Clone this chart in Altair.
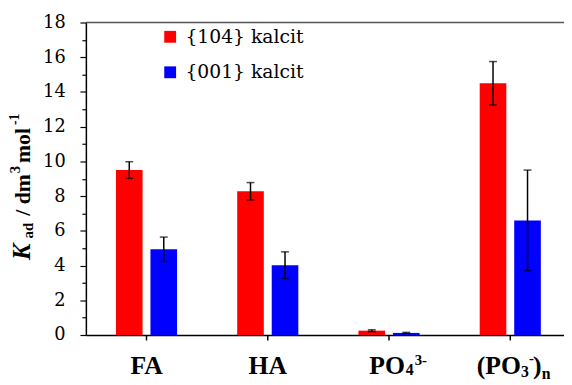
import altair as alt
import pandas as pd

categories = ["FA", "HA", "PO4", "PO3n"]
series = ["{104} kalcit", "{001} kalcit"]
k_104 = [9.5, 8.28, 0.25, 14.5]
err_104 = [0.48, 0.5, 0.05, 1.25]
k_001 = [4.94, 4.02, 0.12, 6.6]
err_001 = [0.7, 0.77, 0.03, 2.9]
y_major = list(range(0, 19, 2))
y_minor = list(range(1, 18, 2))

rows = []
for i, c in enumerate(categories):
    rows.append({"cat": c, "series": series[0], "k": k_104[i],
                 "lo": k_104[i] - err_104[i], "hi": k_104[i] + err_104[i]})
    rows.append({"cat": c, "series": series[1], "k": k_001[i],
                 "lo": k_001[i] - err_001[i], "hi": k_001[i] + err_001[i]})
df = pd.DataFrame(rows)

SERIF = "Liberation Serif"
SERIF_REG = "DejaVu Serif"
W, H = 485, 317

xscale = alt.Scale(domain=categories, range=[0, 492], paddingInner=0, paddingOuter=0)
yscale = alt.Scale(domain=[0, 18], nice=False, zero=True)

x = alt.X("cat:N", sort=categories, scale=xscale,
          axis=alt.Axis(labels=False, title=None, ticks=True, tickSize=5,
                        tickColor="black", tickWidth=1.5, domainColor="black",
                        domainWidth=1.5, grid=False))
xoff = alt.XOffset("series:N", sort=series,
                   scale=alt.Scale(domain=series, paddingInner=0.2286, paddingOuter=0.871))

bars = alt.Chart(df).mark_bar().encode(
    x=x, xOffset=xoff,
    y=alt.Y("k:Q", scale=yscale,
            axis=alt.Axis(values=y_major, orient="left", tickSize=6, tickColor="black",
                          tickWidth=1.2, labelFont=SERIF_REG, labelFontSize=18,
                          labelColor="black", labelPadding=15, title=None, grid=False,
                          domainColor="black", domainWidth=1.5)),
    color=alt.Color("series:N", sort=series,
                    scale=alt.Scale(domain=series, range=["#ff0000", "#0000ff"]),
                    legend=alt.Legend(orient="none", legendX=76, legendY=5, title=None,
                                      symbolType="square", symbolSize=144,
                                      symbolStrokeWidth=0, symbolOpacity=1,
                                      labelFont=SERIF_REG, labelFontSize=19,
                                      labelColor="black", rowPadding=16,
                                      labelOffset=6, padding=0)),
)

rules = alt.Chart(df).mark_rule(color="black", strokeWidth=1.5).encode(
    x=alt.X("cat:N", sort=categories, scale=xscale),
    xOffset=xoff,
    y=alt.Y("lo:Q", scale=yscale,
            axis=alt.Axis(values=y_minor, orient="left", tickSize=4, tickColor="black",
                          tickWidth=1.2, labels=False, domain=False, title=None,
                          grid=False)),
    y2="hi:Q",
)

caps_hi = alt.Chart(df).mark_tick(color="black", size=8, thickness=1.5,
                                  orient="horizontal").encode(
    x=alt.X("cat:N", sort=categories, scale=xscale), xOffset=xoff,
    y=alt.Y("hi:Q", scale=yscale, axis=None))
caps_lo = alt.Chart(df).mark_tick(color="black", size=8, thickness=1.5,
                                  orient="horizontal").encode(
    x=alt.X("cat:N", sort=categories, scale=xscale), xOffset=xoff,
    y=alt.Y("lo:Q", scale=yscale, axis=None))

top = alt.Chart(pd.DataFrame({"v": [18]})).mark_rule(color="#555555", strokeWidth=1.5).encode(
    y=alt.Y("v:Q", scale=yscale, axis=None), x=alt.value(0), x2=alt.value(492))


def piece(text, size, xpos=None, ypos=None, cat=None, dx=0, align="left",
          angle=0, italic=False, bold=True, font=SERIF):
    kw = dict(font=font, fontSize=size, fontWeight="bold" if bold else "normal",
              fontStyle="italic" if italic else "normal", align=align,
              baseline="alphabetic", color="black", dx=dx)
    if angle:
        kw["angle"] = angle
    ch = alt.Chart(pd.DataFrame({"t": [text]})).mark_text(**kw)
    if cat is not None:
        return ch.encode(text="t:N", x=alt.X(datum=cat, scale=xscale), y=alt.value(ypos))
    return ch.encode(text="t:N", x=alt.value(xpos), y=alt.value(ypos))


LB = 357
labels = [
    piece("FA", 26, cat="FA", ypos=LB, align="center"),
    piece("HA", 26, cat="HA", ypos=LB, align="center"),
    piece("PO", 26, cat="PO4", ypos=LB, dx=-20),
    piece("4", 16, cat="PO4", ypos=LB + 1, dx=17),
    piece("3-", 15, cat="PO4", ypos=LB - 10, dx=26),
    piece("(PO", 26, cat="PO3n", ypos=LB, dx=-34),
    piece("3", 16, cat="PO3n", ypos=LB + 3, dx=11),
    piece("-", 15, cat="PO3n", ypos=LB - 12, dx=19),
    piece(")", 26, cat="PO3n", ypos=LB, dx=23),
    piece("n", 16, cat="PO3n", ypos=LB + 5, dx=32),
]

ytitle = [
    piece("K", 25, xpos=-57, ypos=241, angle=270, italic=True),
    piece("ad", 15, xpos=-54, ypos=219, angle=270),
    piece("/ dm", 22, xpos=-57, ypos=196, angle=270),
    piece("3", 15, xpos=-67, ypos=153, angle=270),
    piece("mol", 22, xpos=-57, ypos=142.5, angle=270),
    piece("-1", 14, xpos=-68, ypos=104, angle=270),
]

chart = alt.layer(bars, rules, caps_hi, caps_lo, top, *labels, *ytitle).resolve_axis(
    y="independent"
).properties(
    width=W, height=H,
    autosize=alt.AutoSizeParams(type="none"),
    padding={"left": 79, "top": 12, "right": 0, "bottom": 48},
).configure_view(stroke=None)

chart.save("out.html", embed_options={"renderer": "svg", "actions": False})
